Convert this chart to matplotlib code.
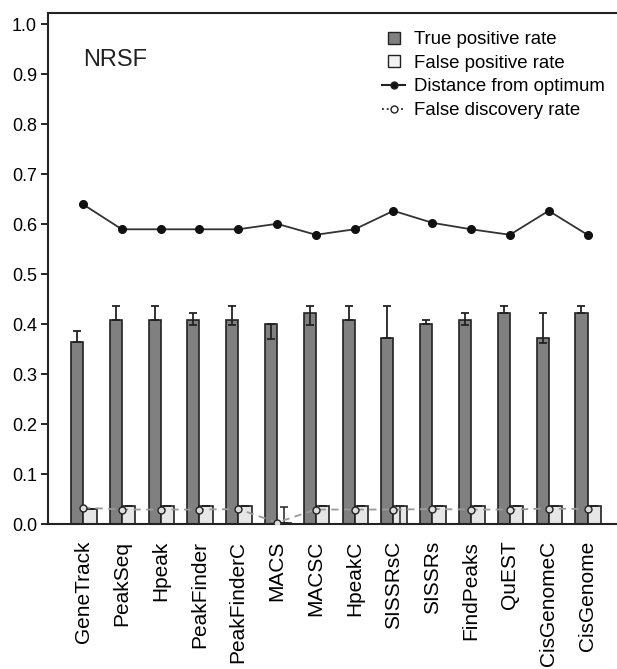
import numpy as np
import matplotlib.pyplot as plt
from matplotlib.lines import Line2D

plt.rcParams['font.family'] = ['Liberation Sans', 'DejaVu Sans']

methods = ["GeneTrack", "PeakSeq", "Hpeak", "PeakFinder", "PeakFinderC", "MACS",
           "MACSC", "HpeakC", "SISSRsC", "SISSRs", "FindPeaks", "QuEST",
           "CisGenomeC", "CisGenome"]

# true positive rate with error range
tpr = [0.364, 0.409, 0.409, 0.409, 0.409, 0.400, 0.423, 0.409, 0.373, 0.401, 0.409, 0.423, 0.373, 0.423]
tpr_hi = [0.386, 0.436, 0.436, 0.423, 0.436, 0.400, 0.436, 0.436, 0.436, 0.409, 0.423, 0.436, 0.423, 0.436]
tpr_lo = [0.364, 0.409, 0.409, 0.398, 0.398, 0.371, 0.398, 0.409, 0.373, 0.401, 0.398, 0.423, 0.362, 0.423]

# false positive rate (a couple of methods carry error ranges)
fpr = [0.031, 0.036, 0.036, 0.036, 0.036, 0.002, 0.036, 0.036, 0.036, 0.036, 0.036, 0.036, 0.036, 0.036]
fpr_hi = [0.031, 0.036, 0.036, 0.036, 0.036, 0.035, 0.036, 0.036, 0.036, 0.036, 0.036, 0.036, 0.036, 0.036]
fpr_lo = [0.031, 0.036, 0.036, 0.036, 0.036, 0.002, 0.036, 0.036, 0.000, 0.036, 0.036, 0.036, 0.036, 0.036]

dist = [0.640, 0.590, 0.590, 0.590, 0.590, 0.601, 0.579, 0.590, 0.627, 0.603, 0.590, 0.579, 0.627, 0.579]
fdr = [0.033, 0.029, 0.029, 0.029, 0.030, 0.003, 0.029, 0.029, 0.029, 0.030, 0.029, 0.029, 0.031, 0.030]

x = np.arange(len(methods))
wd = 0.31
wl = 0.35
tpr = np.array(tpr)
fpr = np.array(fpr)

fig = plt.figure(figsize=(6.17, 6.69), dpi=100)
ax = fig.add_axes([0.0778, 0.2167, 0.9222, 0.7639])

ax.bar(x - wd / 2, tpr, wd, color="#808080", edgecolor="#222222", linewidth=1.2, zorder=2)
ax.bar(x + wl / 2, fpr, wl, color="#e6e6e6", edgecolor="#222222", linewidth=1.2, zorder=2)

ax.errorbar(x - wd / 2, tpr, yerr=[tpr - np.array(tpr_lo), np.array(tpr_hi) - tpr],
            fmt="none", ecolor="#222222", elinewidth=1.3, capsize=3, capthick=1.3, zorder=3)
ax.errorbar(x + wl / 2, fpr, yerr=[fpr - np.array(fpr_lo), np.array(fpr_hi) - fpr],
            fmt="none", ecolor="#222222", elinewidth=1.1, capsize=3, capthick=1.1, zorder=3)

ax.plot(x, dist, color="#333333", linewidth=1.3, marker="o", markersize=5.5,
        markerfacecolor="#111111", markeredgecolor="#111111", zorder=4)
ax.plot(x, fdr, color="#9a9a9a", linewidth=1.3, dashes=(4, 3), marker="o", markersize=5,
        markerfacecolor="#dddddd", markeredgecolor="#222222", zorder=4)

ax.set_xlim(-0.902, 13.76)
ax.set_ylim(0, 1.023)
ax.set_yticks(np.arange(0, 1.01, 0.1))
ax.set_yticklabels(["%.1f" % v for v in np.arange(0, 1.01, 0.1)], fontsize=13)
ax.set_xticks(x)
ax.set_xticklabels(methods, rotation=90, fontsize=15)
ax.tick_params(axis="x", length=0, pad=12)
ax.tick_params(axis="y", length=5, width=1.2, pad=3, direction="out")

for s in ["top", "left", "bottom"]:
    ax.spines[s].set_linewidth(1.5)
    ax.spines[s].set_color("#222222")
ax.spines["right"].set_visible(False)

ax.text(0.0615, 0.908, "NRSF", transform=ax.transAxes, fontsize=17, color="#222222",
        va="center", ha="left")

handles = [
    Line2D([], [], linestyle="none", marker="s", markersize=8,
           markerfacecolor="#808080", markeredgecolor="#222222"),
    Line2D([], [], linestyle="none", marker="s", markersize=8,
           markerfacecolor="#f2f2f2", markeredgecolor="#222222"),
    Line2D([], [], color="#222222", linewidth=1.5, marker="o", markersize=5,
           markerfacecolor="#111111"),
    Line2D([], [], color="#222222", linewidth=1.3, linestyle=":", marker="o",
           markersize=5, markerfacecolor="white", markeredgecolor="#222222"),
]
labels = ["True positive rate", "False positive rate", "Distance from optimum",
          "False discovery rate"]
fig.legend(handles, labels, loc="upper left", bbox_to_anchor=(382 / 617, 1 - 31 / 669),
           frameon=False, fontsize=13.4, borderpad=0, borderaxespad=0,
           handlelength=1.25, handletextpad=0.45, labelspacing=0.36)

plt.savefig("out.png", dpi=100)
